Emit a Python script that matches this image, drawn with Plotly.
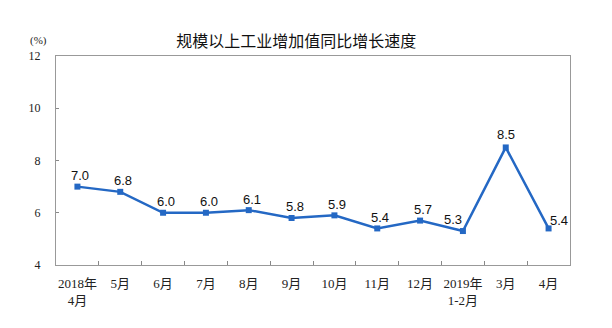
import plotly.graph_objects as go

categories = ["2018年<br>4月", "5月", "6月", "7月", "8月", "9月", "10月", "11月", "12月", "2019年<br>1-2月", "3月", "4月"]
values = [7.0, 6.8, 6.0, 6.0, 6.1, 5.8, 5.9, 5.4, 5.7, 5.3, 8.5, 5.4]
labels = ["7.0", "6.8", "6.0", "6.0", "6.1", "5.8", "5.9", "5.4", "5.7", "5.3", "8.5", "5.4"]
y_ticks = [4, 6, 8, 10, 12]
title = "规模以上工业增加值同比增长速度"

color = "#2468C4"

fig = go.Figure()
fig.add_trace(go.Scatter(
    x=categories, y=values, mode="lines+markers",
    line=dict(color=color, width=2.5),
    marker=dict(symbol="square", size=6, color=color),
    cliponaxis=False, showlegend=False,
))

annotations = []
for i, (c, v, t) in enumerate(zip(categories, values, labels)):
    xs, ys = 3, 11
    if i == 9:
        xs, ys = -10, 12
    elif i == len(values) - 1:
        xs, ys = 10, 8
    elif v == max(values):
        xs, ys = 0, 13
    annotations.append(dict(x=c, y=v, text=t, showarrow=False, xshift=xs, yshift=ys,
                            xanchor="center", yanchor="middle",
                            font=dict(family="Liberation Sans, Arial", size=13, color="#111")))

annotations.append(dict(text="(%)", xref="paper", yref="paper", x=-0.035, y=1 + 16/209,
                        xanchor="center", yanchor="middle", showarrow=False,
                        font=dict(family="Liberation Serif", size=11, color="#222")))

fig.update_layout(
    width=612, height=328,
    margin=dict(l=56, r=42, t=56, b=63, autoexpand=False),
    paper_bgcolor="white", plot_bgcolor="white",
    title=dict(text=title, x=0.484, xanchor="center", y=1 - 41/328, yanchor="middle",
               font=dict(family="Noto Sans CJK SC", size=16, color="#111")),
    xaxis=dict(type="category", range=[-0.5, len(categories) - 0.5],
               tickson="boundaries", ticks="inside", ticklen=4,
               tickcolor="#888", showline=True, linecolor="#999", linewidth=1.2, mirror=True,
               showgrid=False, tickangle=0, automargin=False, ticklabelstandoff=6,
               tickfont=dict(family="Liberation Serif, Noto Sans CJK SC", size=13, color="#222")),
    yaxis=dict(range=[4, 12], tickvals=y_ticks, ticks="inside", ticklen=3, tickcolor="#888",
               showline=True, linecolor="#999", linewidth=1.2, mirror=True, showgrid=False,
               zeroline=False, automargin=False, ticklabelstandoff=12,
               tickfont=dict(family="Liberation Serif", size=12, color="#222")),
    annotations=annotations,
)

fig.write_html("out.html")
